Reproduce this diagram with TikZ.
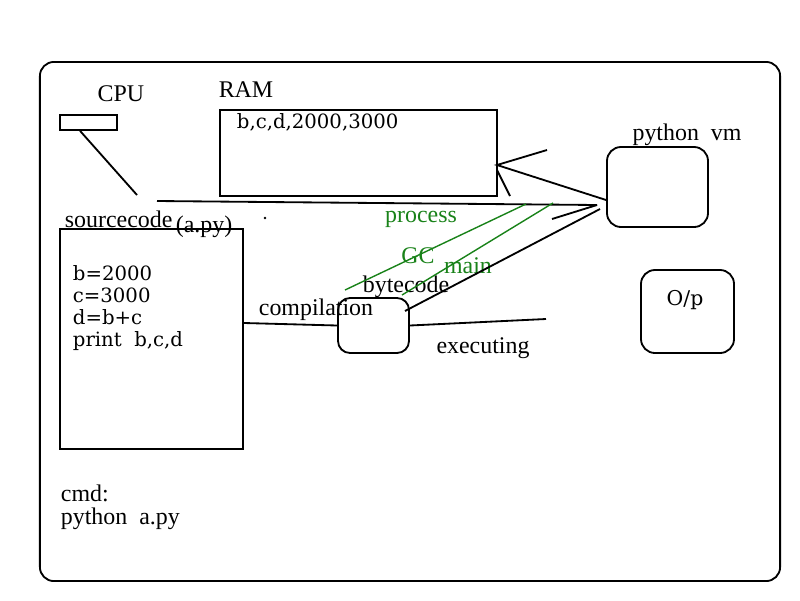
\documentclass[tikz,border=0pt]{standalone}
\usepackage{fontspec}
\setmainfont{Liberation Serif}
\newfontfamily\codefont{DejaVu Serif}
\usetikzlibrary{calc}
\definecolor{gc}{RGB}{25,130,25}

\begin{document}
\begin{tikzpicture}[x=0.025cm, y=-0.025cm, line width=1.3pt,
  every node/.style={font=\fontsize{17}{20}\selectfont},
  box/.style={draw, inner sep=0pt},
  rbox/.style={box, rounded corners=3.5mm},
  lbl/.style={inner sep=0pt, anchor=base},
  glbl/.style={lbl, text=gc},
  code/.style={inner sep=0pt, align=left, font=\codefont\fontsize{14}{15.6}\selectfont},
  gline/.style={draw=gc, line width=1pt}]
\useasboundingbox (0,0) rectangle (800,600);

% frame and boxes
\node[rbox, minimum width=18.5cm, minimum height=12.975cm] (frame) at (410,321.5) {};
\node[box, minimum width=1.425cm, minimum height=0.375cm] (cpu) at (88.5,122.5) {};
\node[box, minimum width=6.925cm, minimum height=2.15cm] (ram) at (358.5,153) {};
\node[box, minimum width=4.575cm, minimum height=5.5cm] (src) at (151.5,339) {};
\node[rbox, rounded corners=3mm, minimum width=1.775cm, minimum height=1.375cm] (byte) at (373.5,325.5) {};
\node[rbox, minimum width=2.525cm, minimum height=2cm] (vm) at (657.5,187) {};
\node[rbox, minimum width=2.325cm, minimum height=2.075cm] (op) at (687.5,311.5) {};

% labels
\node[lbl] (cpulbl) at (121,101) {CPU};
\node[lbl] (ramlbl) at (246,97) {RAM};
\node[code, anchor=north west] (ramtxt) at (236,113) {b,c,d,2000,3000};
\node[lbl, anchor=base west] (srclbl) at (64,227) {sourcecode};
\node[lbl, anchor=base west] (srcfile) at (175,232) {(a.py)};
\node[code, anchor=north west] (srctxt) at (72,265) {b=2000\\c=3000\\d=b+c\\print\ \ b,c,d};
\node[lbl, anchor=north west, align=left, font=\fontsize{17}{14.6}\selectfont] (cmd) at (60,484) {cmd:\\[2pt]python\ \ a.py};
\node[lbl] (bytelbl) at (406,292) {bytecode};
\node[lbl] (complbl) at (316,315) {compilation};
\node[lbl] (execlbl) at (483,353) {executing};
\node[lbl] (vmlbl) at (687,140) {python\ \ vm};
\node[lbl, font=\codefont\fontsize{14.5}{17}\selectfont] (oplbl) at (685,305) {O/p};
\node[glbl] (proclbl) at (421,222) {process};
\node[glbl] (gclbl) at (418,263) {GC};
\node[glbl] (mainlbl) at (468,273) {main};
\fill (265,218) circle (0.9pt);

% free ends
\coordinate (cpuend) at (137,195);
\coordinate (busL) at (157,201);
\coordinate (busR) at (597,205);
\coordinate (busbarb) at (552,219);
\coordinate (ramtip) at (497,165);
\coordinate (rambarbA) at (547,150);
\coordinate (rambarbB) at (497,170);
\coordinate (rambarbC) at (510,196);
\coordinate (bytetop) at (405,311);
\coordinate (vmlow) at (600,209);
\coordinate (execend) at (546,319);
\coordinate (g1a) at (345,290);
\coordinate (g1b) at (526,204);
\coordinate (g2a) at (402,295);
\coordinate (g2b) at (553,203);

% connectors
\draw ([xshift=-0.21cm]cpu.south) -- (cpuend);
\draw (busL) -- (busR);
\draw (busbarb) -- (busR);
\draw ([yshift=-0.325cm]vm.west) -- (ramtip) -- (rambarbA);
\draw (rambarbB) -- (rambarbC);
\draw ([yshift=0.4cm]src.east) -- (byte.west);
\draw (byte.east) -- (execend);
\draw (bytetop) -- (vmlow);
\draw[gline] (g1a) -- (g1b);
\draw[gline] (g2a) -- (g2b);
\end{tikzpicture}
\end{document}
